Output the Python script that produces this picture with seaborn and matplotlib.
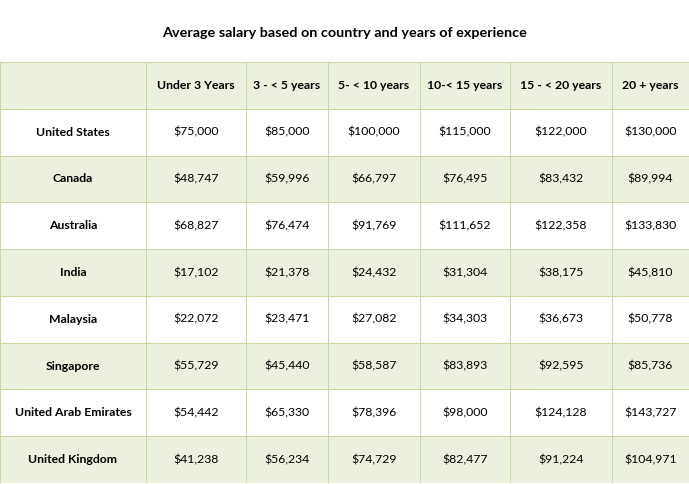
import numpy as np
import pandas as pd
import matplotlib
matplotlib.use('Agg')
import matplotlib.pyplot as plt
import seaborn as sns
from matplotlib.colors import ListedColormap

# Datos de la tabla
countries = ['United States', 'Canada', 'Australia', 'India', 'Malaysia',
             'Singapore', 'United Arab Emirates', 'United Kingdom']
periods = ['Under 3 Years', '3 - < 5 years', '5- < 10 years', '10-< 15 years',
           '15 - < 20 years', '20 + years']
under_3 = [75000, 48747, 68827, 17102, 22072, 55729, 54442, 41238]
y3_5 = [85000, 59996, 76474, 21378, 23471, 45440, 65330, 56234]
y5_10 = [100000, 66797, 91769, 24432, 27082, 58587, 78396, 74729]
y10_15 = [115000, 76495, 111652, 31304, 34303, 83893, 98000, 82477]
y15_20 = [122000, 83432, 122358, 38175, 36673, 92595, 124128, 91224]
y20_plus = [130000, 89994, 133830, 45810, 50778, 85736, 143727, 104971]

df = pd.DataFrame({p: v for p, v in zip(periods, [under_3, y3_5, y5_10, y10_15, y15_20, y20_plus])},
                  index=countries)

green = '#EBF1DE'
border = '#C8D9A4'
cmap = ListedColormap(['white', green])

sns.set_theme(style='white')
plt.rcParams['font.family'] = ['Lato', 'DejaVu Sans']

fig = plt.figure(figsize=(6.89, 4.84), dpi=100)
col_widths = [146, 100, 82, 92, 90, 102, 77]
gs = fig.add_gridspec(1, 7, width_ratios=col_widths, wspace=0,
                      left=0, right=1, top=1 - 62 / 484, bottom=0.002)

# franjas: cabecera y filas pares en verde
shade = np.array([[1 if i % 2 == 0 else 0] for i in range(len(countries) + 1)])

columns = [[''] + countries] + [[p] + [f'${v:,}' for v in df[p]] for p in periods]

for j, col in enumerate(columns):
    ax = fig.add_subplot(gs[0, j])
    labels = np.array(col).reshape(-1, 1)
    sns.heatmap(shade, ax=ax, cmap=cmap, vmin=0, vmax=1, cbar=False,
                annot=labels, fmt='', linewidths=0.6, linecolor=border,
                annot_kws={'fontsize': 8.8, 'color': '#000000'})
    ax.set_xticks([])
    ax.set_yticks([])
    for k, t in enumerate(ax.texts):
        if j == 0 or k == 0:
            t.set_fontweight('bold')

fig.text(0.5, 1 - 33 / 484, 'Average salary based on country and years of experience',
         ha='center', va='center', fontsize=10.4, fontweight='bold', color='#000000')

fig.savefig('out.png', dpi=100)
